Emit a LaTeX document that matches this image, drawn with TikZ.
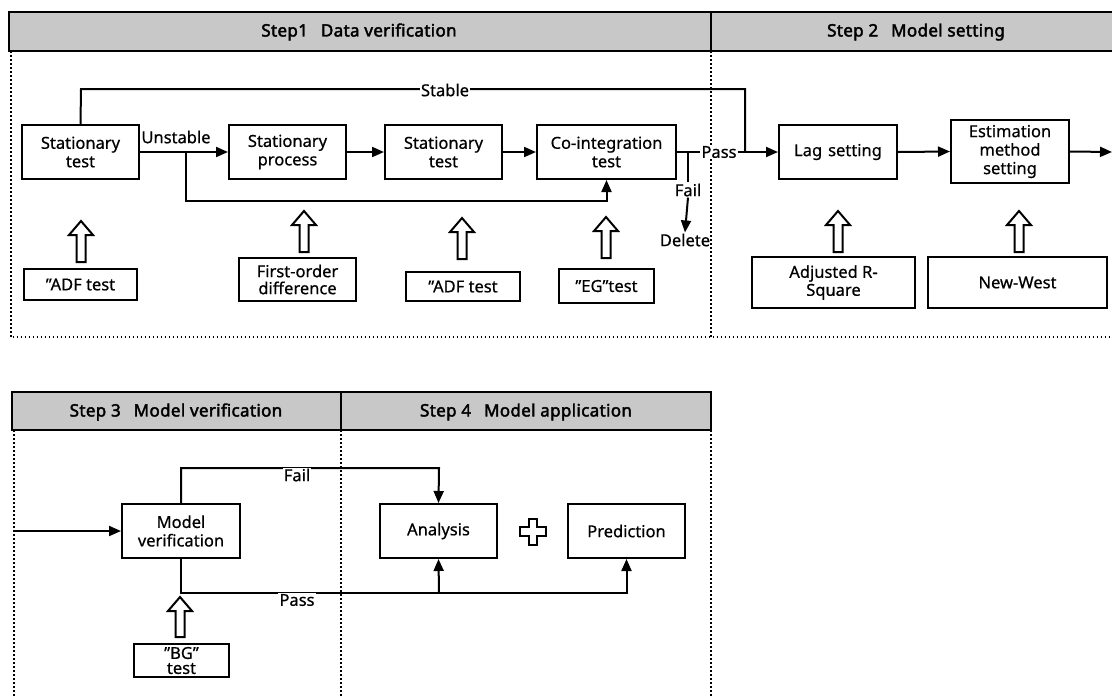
\documentclass[tikz,border=0pt]{standalone}
\usepackage{fontspec}
\setmainfont{Noto Sans}[FakeBold=0.6]
\newfontfamily\hdrfont{Noto Sans}[FakeBold=2.4,LetterSpace=2]
\usetikzlibrary{arrows.meta}
\definecolor{hdrgray}{RGB}{200,200,200}
\tikzset{
  box/.style={draw, line width=2pt, align=center, font=\fontsize{16.5}{18.5}\selectfont, inner sep=1pt},
  wh/.style 2 args={minimum width=#1pt, minimum height=#2pt},
  lbl/.style={font=\fontsize{16.5}{18.5}\selectfont, fill=white, inner sep=1pt},
  plain/.style={font=\fontsize{16.5}{18.5}\selectfont, inner sep=1pt},
  conn/.style={line width=2pt},
  arr/.style={conn, -{Triangle[length=12pt,width=10pt]}},
  hdr/.style={draw, line width=2pt, fill=hdrgray},
  hdrtxt/.style={font=\hdrfont\fontsize{17}{19}\selectfont},
  sep/.style={line width=1.6pt, dash pattern=on 1.6pt off 2.4pt},
  hollow/.style={draw, line width=2pt, fill=white, line join=miter},
}
\newcommand\hollowarrow[3]{%
  \draw[hollow] (#1-4.5,#2) -- (#1+4.5,#2) -- (#1+4.5,#3+14) -- (#1+12,#3+14) -- (#1,#3) -- (#1-12,#3+14) -- (#1-4.5,#3+14) -- cycle;}
\begin{document}
\begin{tikzpicture}[x=1pt,y=-1pt]
\useasboundingbox (0,0) rectangle (1112,697);

% ---------- Headers ----------
\draw[hdr] (9,12) rectangle (1118,51);
\draw[line width=2pt] (711,12) -- (711,51);
\node[hdrtxt] (h1) at (359,32) {Step1\hspace{13pt}Data verification};
\node[hdrtxt] (h2) at (916,32) {Step 2\hspace{13pt}Model setting};

\draw[hdr] (11.5,392) rectangle (711,430);
\draw[line width=2pt] (341,392) -- (341,430);
\node[hdrtxt] (h3) at (176,412) {Step 3\hspace{13pt}Model verification};
\node[hdrtxt] (h4) at (526,412) {Step 4\hspace{13pt}Model application};

% ---------- Dotted separators ----------
\draw[sep] (10.7,51) -- (10.7,337) -- (1112,337);
\draw[sep] (711,51) -- (711,337);
\draw[sep] (14,430) -- (14,697);
\draw[sep] (341,430) -- (341,697);
\draw[sep] (711,430) -- (711,697);

% ---------- Step 1 / Step 2 boxes ----------
\node[box, wh={117}{54}] (st1) at (80.5,152) {Stationary\\test};
\node[box, wh={117}{54}] (sp) at (287.5,152) {Stationary\\process};
\node[box, wh={117}{54}] (st2) at (443.5,152) {Stationary\\test};
\node[box, wh={139}{54}] (ci) at (606.5,152) {Co-integration\\test};
\node[box, wh={118}{54}] (lag) at (838,152) {Lag\hspace{6pt}setting};
\node[box, wh={118}{63}] (est) at (1010,151.5) {Estimation\\method\\setting};

\node[box, wh={113}{31}] (adf1) at (80.5,284.5) {"ADF test};
\node[box, wh={117}{43}, font=\fontsize{16.5}{17}\selectfont] (fod) at (297.5,279.5) {First-order\\difference};
\node[box, wh={114}{29}] (adf2) at (463,286.5) {"ADF test};
\node[box, wh={95}{34}] (eg) at (606.5,286) {"EG"test};
\node[box, wh={163}{51}, font=\fontsize{16.5}{18}\selectfont] (adj) at (833.5,282.5) {Adjusted R-\\Square};
\node[box, wh={179}{51}] (nw) at (1017.5,282.5) {New-West};

% hollow arrows
\hollowarrow{81}{262}{221}
\hollowarrow{304}{252}{211}
\hollowarrow{462}{259}{218}
\hollowarrow{606}{258}{217}
\hollowarrow{838}{252}{211}
\hollowarrow{1019}{252}{211}

% connectors step 1/2
\coordinate (stabTL) at (81,89);
\coordinate (stabTR) at (745,89);
\coordinate (stabJ) at (745,152);
\draw[conn] (st1.north) -- (stabTL) -- (stabTR) -- (stabJ);
\node[lbl] (stable) at (445,90) {Stable};

\draw[arr] (st1.east) -- (sp.west);
\node[plain] (unst) at (176,137) {Unstable};
\coordinate (brA) at (186,152);
\coordinate (brB) at (186,201);
\draw[arr] (brA) -- (brB) -| (ci.south);

\draw[arr] (sp.east) -- (st2.west);
\draw[arr] (st2.east) -- (ci.west);
\draw[arr] (ci.east) -- (lag.west);
\node[lbl] (pass1) at (719,152) {Pass};

\coordinate (failA) at (688,152);
\node[plain] (fail1) at (688,190) {Fail};
\node[plain] (del) at (685,240) {Delete};
\draw[conn] (failA) -- (fail1.north);
\draw[arr] (fail1.south) -- (del.north);

\draw[arr] (lag.east) -- (est.west);
\coordinate (estR) at (1112,152);
\draw[arr] (est.east) -- (estR);

% ---------- Step 3 / Step 4 ----------
\node[box, wh={118}{54}] (mv) at (181,531) {Model\\verification};
\node[box, wh={117}{54}] (an) at (438.5,531) {Analysis};
\node[box, wh={117}{54}] (pr) at (626.5,531) {Prediction};
\node[box, wh={95}{33}, inner sep=0pt, font=\fontsize{16.5}{15}\selectfont] (bg) at (181.5,660.5) {"BG"\\test};

\hollowarrow{180}{637}{597}

% plus sign
\draw[hollow] (529,519) -- (537,519) -- (537,527) -- (546,527) -- (546,536) -- (537,536) -- (537,545) -- (529,545) -- (529,536) -- (520,536) -- (520,527) -- (529,527) -- cycle;

\coordinate (inL) at (14,531);
\draw[arr] (inL) -- (mv.west);

\coordinate (failT) at (439,468);
\draw[arr] (mv.north) |- (failT) -- (an.north);
\node[lbl] (fail2) at (297,475) {Fail};

\coordinate (passB) at (439,593);
\draw[arr] (mv.south) |- (pr.south |- passB) -- (pr.south);
\draw[arr] (passB) -- (an.south);
\node[lbl] (pass2) at (297,600) {Pass};
\end{tikzpicture}
\end{document}
